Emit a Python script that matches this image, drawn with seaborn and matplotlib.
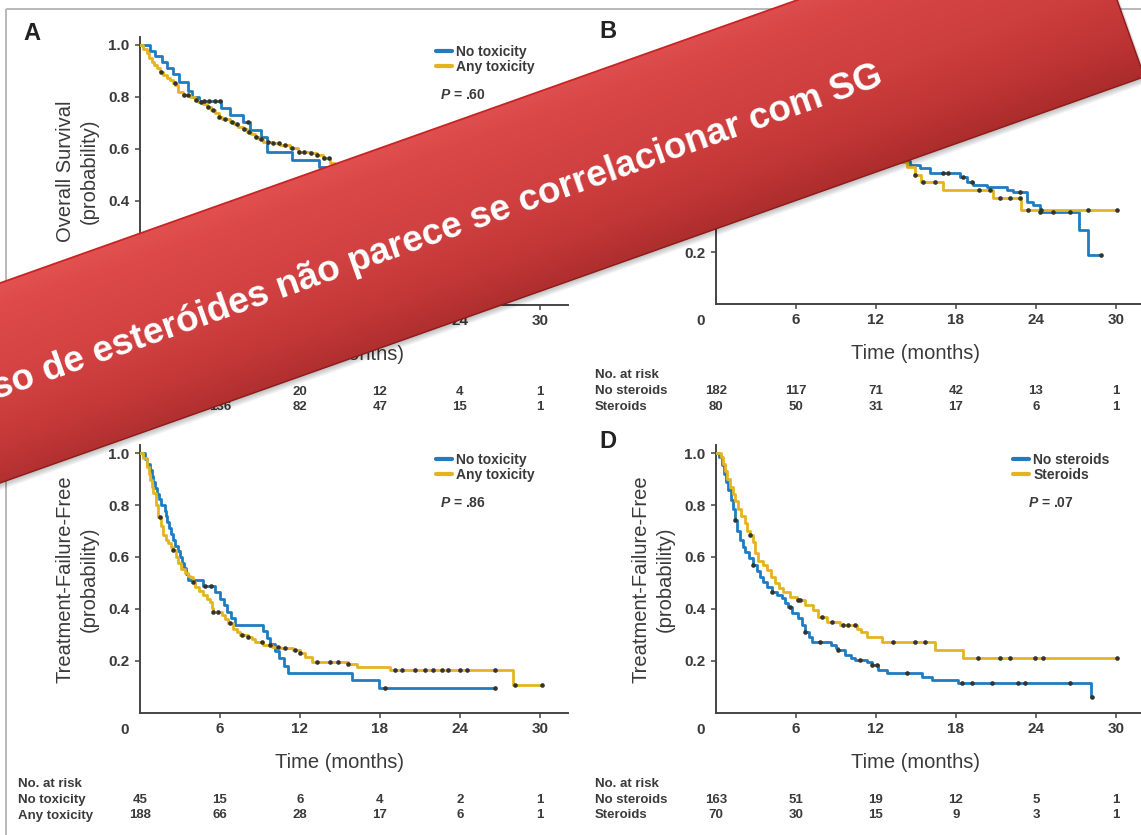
import numpy as np
import pandas as pd
import matplotlib
matplotlib.use("Agg")
import matplotlib.pyplot as plt
import seaborn as sns
from matplotlib import transforms, font_manager
from matplotlib.patches import Polygon
from matplotlib.lines import Line2D

# ---------------- data ----------------
month_ticks = [6, 12, 18, 24, 30]
ytick_vals = [0.2, 0.4, 0.6, 0.8, 1.0]
ytick_labels = ["0.2", "0.4", "0.6", "0.8", "1.0"]
risk_times = [0, 6, 12, 18, 24, 30]

# Panel A: overall survival by toxicity
a_no_t = [0, 0.75, 1.13, 1.63, 2.0, 2.5, 2.9, 3.6, 3.9, 4.4, 6.1, 6.75, 7.75, 8.25, 9.1, 9.5, 11.4, 13.4,
          14.1, 16.5, 19.0, 21.5, 24.0, 27.0]
a_no_s = [1.0, 0.978, 0.956, 0.933, 0.911, 0.889, 0.856, 0.822, 0.80, 0.786, 0.756, 0.731, 0.705, 0.673,
          0.647, 0.590, 0.558, 0.532, 0.505, 0.47, 0.43, 0.39, 0.36, 0.36]
a_no_c = [4.8, 5.2, 5.6, 6.0, 8.1]
a_tx_t = [0, 0.25, 0.5, 0.7, 0.88, 1.05, 1.25, 1.5, 1.75, 2.0, 2.25, 2.45, 2.63, 2.88, 3.25, 3.75, 4.1,
          4.38, 4.7, 5.0, 5.3, 5.63, 5.9, 6.13, 6.75, 7.05, 7.38, 7.7, 8.0, 8.3, 8.63, 8.95, 9.25, 9.88,
          10.5, 11.25, 11.88, 12.75, 13.25, 13.75, 14.25, 14.6, 15.2, 16, 17, 18, 19.5, 21, 22.5, 24,
          26, 28, 30]
a_tx_s = [1.0, 0.985, 0.968, 0.95, 0.936, 0.922, 0.91, 0.897, 0.885, 0.875, 0.865, 0.855, 0.846, 0.821,
          0.808, 0.801, 0.79, 0.782, 0.772, 0.763, 0.75, 0.737, 0.725, 0.714, 0.705, 0.695, 0.686, 0.677,
          0.667, 0.657, 0.647, 0.637, 0.628, 0.622, 0.615, 0.603, 0.59, 0.584, 0.577, 0.564, 0.545, 0.53,
          0.515, 0.5, 0.49, 0.48, 0.46, 0.445, 0.43, 0.415, 0.40, 0.39, 0.39]
a_tx_c = [1.6, 2.6, 3.3, 3.6, 4.2, 4.6, 5.1, 5.5, 5.9, 6.4, 6.9, 7.3, 7.8, 8.2, 8.7, 9.1, 9.6, 10.0,
          10.4, 10.9, 11.4, 11.9, 12.3, 12.8, 13.3, 13.8, 14.2, 16.5, 19.0, 22.0, 25.0, 28.0, 30.0]
a_risk_no = [45, 33, 20, 12, 4, 1]
a_risk_tx = [188, 136, 82, 47, 15, 1]

# Panel B: overall survival by steroids
b_no_t = [0, 1, 2, 3, 4, 5, 6, 7, 8, 9, 10, 11, 12, 13, 14, 14.55, 15.3, 16.05, 18.3, 18.8, 19.3, 20.3,
          21.8, 22.3, 23.3, 23.8, 24.3, 27.2, 27.9, 28.9]
b_no_s = [1.0, 0.97, 0.93, 0.89, 0.85, 0.81, 0.77, 0.73, 0.70, 0.67, 0.64, 0.61, 0.59, 0.57, 0.55, 0.535,
          0.522, 0.503, 0.49, 0.47, 0.458, 0.451, 0.438, 0.432, 0.393, 0.381, 0.355, 0.285, 0.188, 0.188]
b_no_c = [17.05, 17.43, 18.55, 19.18, 22.8, 24.3, 25.3, 26.55, 28.9]
b_st_t = [0, 1, 2, 3, 4, 5, 6, 7, 8, 9, 10, 11, 12, 13, 13.8, 14.3, 14.9, 15.4, 17.05, 20.8, 22.9, 30.05]
b_st_s = [1.0, 0.97, 0.93, 0.89, 0.85, 0.80, 0.76, 0.72, 0.69, 0.66, 0.63, 0.60, 0.58, 0.56, 0.545, 0.528,
          0.497, 0.47, 0.438, 0.406, 0.361, 0.361]
b_st_c = [14.9, 15.55, 16.4, 19.7, 20.55, 21.3, 22.05, 22.8, 23.4, 24.4, 27.9, 30.05]
b_risk_no = [182, 117, 71, 42, 13, 1]
b_risk_st = [80, 50, 31, 17, 6, 1]

# Panel C: treatment-failure-free by toxicity
c_no_t = [0, 0.38, 0.55, 0.75, 0.9, 1.0, 1.13, 1.25, 1.45, 1.6, 1.85, 1.95, 2.05, 2.2, 2.35, 2.5, 2.65,
          2.85, 3.0, 3.15, 3.3, 3.45, 3.6, 4.75, 5.6, 6.0, 6.3, 6.55, 6.8, 7.1, 9.25, 9.5, 9.75, 10.1,
          10.4, 10.8, 11.1, 15.9, 17.9, 26.6]
c_no_s = [1.0, 0.978, 0.956, 0.933, 0.911, 0.889, 0.867, 0.844, 0.822, 0.800, 0.778, 0.756, 0.733, 0.711,
          0.689, 0.667, 0.644, 0.622, 0.600, 0.578, 0.556, 0.533, 0.511, 0.489, 0.465, 0.44, 0.415, 0.39,
          0.365, 0.34, 0.315, 0.29, 0.265, 0.24, 0.21, 0.18, 0.153, 0.127, 0.095, 0.095]
c_no_c = [4.9, 5.3, 18.4, 26.6]
c_tx_t = [0, 0.25, 0.5, 0.65, 0.75, 0.9, 1.0, 1.2, 1.38, 1.55, 1.75, 1.95, 2.13, 2.3, 2.5, 2.7, 2.88, 3.1,
          3.38, 3.6, 3.75, 3.95, 4.13, 4.45, 4.75, 5.0, 5.25, 5.4, 5.5, 6.13, 6.4, 6.63, 7.0, 7.25, 7.5,
          8.13, 8.4, 8.63, 9.25, 9.88, 10.5, 11.5, 12.0, 12.4, 12.9, 15.6, 16.25, 18.75, 28.0, 30.13]
c_tx_s = [1.0, 0.98, 0.947, 0.92, 0.896, 0.87, 0.845, 0.80, 0.755, 0.72, 0.685, 0.665, 0.653, 0.64, 0.627,
          0.60, 0.576, 0.555, 0.537, 0.528, 0.524, 0.505, 0.486, 0.47, 0.454, 0.44, 0.428, 0.405, 0.389,
          0.377, 0.36, 0.345, 0.325, 0.312, 0.30, 0.293, 0.283, 0.274, 0.261, 0.255, 0.249, 0.242, 0.229,
          0.216, 0.197, 0.188, 0.178, 0.165, 0.107, 0.107]
c_tx_c = [1.5, 2.5, 4.0, 5.5, 5.88, 6.75, 7.63, 8.13, 9.13, 9.75, 10.38, 10.88, 11.63, 12.0, 13.25, 14.25,
          14.88, 15.63, 19.13, 19.63, 20.63, 21.38, 22.0, 22.63, 23.13, 24.0, 24.5, 26.63, 28.13, 30.13]
c_risk_no = [45, 15, 6, 4, 2, 1]
c_risk_tx = [188, 66, 28, 17, 6, 1]

# Panel D: treatment-failure-free by steroids
d_no_t = [0, 0.2, 0.43, 0.6, 0.75, 0.93, 1.1, 1.25, 1.43, 1.6, 1.8, 2.0, 2.18, 2.5, 2.8, 3.05, 3.3, 3.55,
          3.8, 4.18, 4.55, 4.93, 5.2, 5.43, 5.68, 6.18, 6.45, 6.68, 6.95, 7.18, 8.6, 9.0, 9.18, 9.68, 10.1,
          10.43, 11.3, 11.68, 12.18, 12.8, 15.43, 16.18, 18.18, 28.1, 28.2]
d_no_s = [1.0, 0.985, 0.954, 0.92, 0.89, 0.858, 0.82, 0.785, 0.742, 0.70, 0.665, 0.64, 0.62, 0.595, 0.569,
          0.545, 0.524, 0.505, 0.486, 0.466, 0.455, 0.441, 0.425, 0.409, 0.383, 0.364, 0.34, 0.313, 0.293,
          0.274, 0.262, 0.25, 0.242, 0.223, 0.212, 0.204, 0.195, 0.185, 0.165, 0.153, 0.137, 0.127, 0.117,
          0.063, 0.063]
d_no_c = [1.43, 2.8, 4.18, 5.55, 6.68, 7.8, 9.18, 10.8, 11.68, 12.05, 14.3, 18.43, 19.18, 20.68, 22.68,
          23.18, 26.55, 28.2]
d_st_t = [0, 0.4, 0.55, 0.7, 0.85, 1.05, 1.25, 1.45, 1.68, 1.9, 2.18, 2.35, 2.55, 2.75, 2.93, 3.18, 3.5,
          3.8, 4.1, 4.43, 4.75, 5.05, 5.55, 6.05, 6.68, 7.3, 7.68, 8.3, 9.3, 10.55, 10.9, 11.3, 12.43,
          16.43, 18.55, 30.1]
d_st_s = [1.0, 0.986, 0.957, 0.929, 0.9, 0.871, 0.843, 0.814, 0.786, 0.757, 0.729, 0.70, 0.686, 0.657,
          0.614, 0.586, 0.571, 0.55, 0.525, 0.50, 0.48, 0.466, 0.447, 0.434, 0.415, 0.396, 0.37, 0.351,
          0.338, 0.325, 0.31, 0.293, 0.274, 0.242, 0.21, 0.21]
d_st_c = [2.55, 6.18, 6.3, 7.93, 8.68, 9.55, 9.93, 10.43, 13.3, 14.93, 15.68, 19.68, 21.3, 22.05, 23.93,
          24.55, 30.1]
d_risk_no = [163, 51, 19, 12, 5, 1]
d_risk_st = [70, 30, 15, 9, 3, 1]

tox_labels = ["No toxicity", "Any toxicity"]
ster_labels = ["No steroids", "Steroids"]
banner_text = "Uso de esteróides não parece se correlacionar com SG"

# ---------------- style ----------------
sns.set_style("ticks")
plt.rcParams["font.family"] = ["Liberation Sans", "DejaVu Sans"]
plt.rcParams["mathtext.fontset"] = "custom"
plt.rcParams["mathtext.it"] = "Liberation Sans:italic:bold"
plt.rcParams["mathtext.rm"] = "Liberation Sans"

avail = {f.name for f in font_manager.fontManager.ttflist}
if "Liberation Sans Narrow" in avail:
    LAB_FAM, LAB_SIZE = ["Liberation Sans Narrow", "DejaVu Sans"], 17
else:
    LAB_FAM, LAB_SIZE = ["Liberation Sans", "DejaVu Sans"], 14.5

BLUE = "#1f7cc2"
GOLD = "#e4b420"
CENS = "#34342a"
AXC = "#444444"
TXT = "#3a3a3a"

W, H = 1141, 835
fig = plt.figure(figsize=(W / 100, H / 100), dpi=100)
fig.patch.set_facecolor("white")

XMAX, YMAX = 32.1, 1.03
PXM, PXS = 13.333, 260.0
AW, AH = XMAX * PXM, YMAX * PXS


def make_axes(x0, y0):
    return fig.add_axes([x0 / W, 1 - y0 / H, AW / W, AH / H])


def draw_panel(x0, y0, curves, labels, pval, ylabel, risk, letter, leg_x, p_x, risk_label_x):
    ax = make_axes(x0, y0)
    ax.set_xlim(0, XMAX)
    ax.set_ylim(0, YMAX)
    for t, s, c, col in curves:
        df = pd.DataFrame({"t": t, "s": s})
        sns.lineplot(data=df, x="t", y="s", drawstyle="steps-post", color=col, lw=2.0, ax=ax,
                     estimator=None, errorbar=None, legend=False, zorder=3)
        idx = np.searchsorted(np.asarray(t), np.asarray(c), side="right") - 1
        yc = np.asarray(s)[idx]
        sns.scatterplot(x=c, y=yc, ax=ax, s=11, color=CENS, linewidth=0, zorder=4, legend=False)
    for sp in ["top", "right"]:
        ax.spines[sp].set_visible(False)
    for sp in ["left", "bottom"]:
        ax.spines[sp].set_color(AXC)
        ax.spines[sp].set_linewidth(1.4)
    ax.set_xticks(month_ticks)
    ax.set_xticklabels([str(m) for m in month_ticks], fontweight="bold")
    ax.set_yticks(ytick_vals)
    ax.set_yticklabels(ytick_labels, fontweight="bold")
    ax.tick_params(direction="out", length=3.5, width=1.1, color=AXC, labelsize=11, labelcolor=TXT)
    ax.tick_params(axis="x", pad=3)
    ax.tick_params(axis="y", pad=4)
    off = transforms.ScaledTranslation(-15 / 100, -9.5 / 100, fig.dpi_scale_trans)
    ax.text(0, 0, "0", transform=ax.transData + off, ha="center", va="top", fontsize=11,
            fontweight="bold", color=TXT)
    ax.set_xlabel("Time (months)", fontsize=LAB_SIZE, family=LAB_FAM, color=TXT, va="top")
    ax.xaxis.set_label_coords(15 / XMAX, -0.151)
    ax.set_ylabel(ylabel, fontsize=LAB_SIZE, family=LAB_FAM, color=TXT, linespacing=1.32)
    ax.yaxis.set_label_coords(-0.097, 0.5)
    handles = [Line2D([], [], color=BLUE, lw=3), Line2D([], [], color=GOLD, lw=3)]
    leg = ax.legend(handles, labels, loc="upper left", bbox_to_anchor=(leg_x, 0.972), frameon=False,
                    fontsize=10, handlelength=1.15, handletextpad=0.3, labelspacing=0.1, borderpad=0,
                    borderaxespad=0, labelcolor=TXT)
    for tx in leg.get_texts():
        tx.set_fontweight("bold")
    if pval is not None:
        ax.text(p_x, 0.783, r"$P$ = " + pval, transform=ax.transAxes, fontsize=10, color=TXT,
                fontweight="bold", ha="left", va="center")
    # risk table
    blend = transforms.blended_transform_factory(ax.transData, fig.transFigure)
    fig.text(risk_label_x / W, 1 - (y0 + 71) / H, "No. at risk", fontsize=9.5, color=TXT,
             fontweight="bold", va="center")
    for k, (name, vals) in enumerate(risk):
        yy = 1 - (y0 + 87 + 15.5 * k) / H
        fig.text(risk_label_x / W, yy, name, fontsize=9.5, color=TXT, fontweight="bold", va="center")
        for tt, v in zip(risk_times, vals):
            ax.text(tt, yy, str(v), transform=blend, fontsize=9.5, color=TXT, fontweight="bold",
                    ha="center", va="center")
    fig.text((x0 - 108) / W, 1 - (y0 - 272) / H, letter, fontsize=17, fontweight="bold",
             color="#222222", ha="center", va="center")
    return ax


draw_panel(140, 305,
           [(a_no_t, a_no_s, a_no_c, BLUE), (a_tx_t, a_tx_s, a_tx_c, GOLD)],
           tox_labels, ".60", "Overall Survival\n(probability)",
           [(tox_labels[0], a_risk_no), (tox_labels[1], a_risk_tx)], "A", 0.692, 0.70, 18)
draw_panel(716, 304,
           [(b_no_t, b_no_s, b_no_c, BLUE), (b_st_t, b_st_s, b_st_c, GOLD)],
           ster_labels, None, "Overall Survival\n(probability)",
           [(ster_labels[0], b_risk_no), (ster_labels[1], b_risk_st)], "B", 0.694, 0.73, 595)
draw_panel(140, 713,
           [(c_no_t, c_no_s, c_no_c, BLUE), (c_tx_t, c_tx_s, c_tx_c, GOLD)],
           tox_labels, ".86", "Treatment-Failure-Free\n(probability)",
           [(tox_labels[0], c_risk_no), (tox_labels[1], c_risk_tx)], "C", 0.692, 0.70, 18)
draw_panel(716, 713,
           [(d_no_t, d_no_s, d_no_c, BLUE), (d_st_t, d_st_s, d_st_c, GOLD)],
           ster_labels, ".07", "Treatment-Failure-Free\n(probability)",
           [(ster_labels[0], d_risk_no), (ster_labels[1], d_risk_st)], "D", 0.694, 0.729, 595)

# ---------------- overlay: frame + banner ----------------
ov = fig.add_axes([0, 0, 1, 1], zorder=10)
ov.set_xlim(0, W)
ov.set_ylim(H, 0)
ov.axis("off")
ov.plot([5.5, W], [8.5, 8.5], color="#b8b8b8", lw=1.4, zorder=1, solid_capstyle="butt")
ov.plot([5.5, 5.5], [8.5, H], color="#b8b8b8", lw=1.4, zorder=1, solid_capstyle="butt")

theta = np.arctan(0.355)
u = np.array([np.cos(theta), -np.sin(theta)])
n = np.array([np.sin(theta), np.cos(theta)])
half = 94.2
cr = np.array([1112.8, -12.0])
cl = cr - u * 1700
corners = np.array([cl - n * half, cr - n * half, cr + n * half, cl + n * half])

for k in range(1, 8):
    shift = n * k * 1.0 + u * k * 0.35
    ov.add_patch(Polygon(corners + shift, closed=True, facecolor="black", edgecolor="none",
                         alpha=0.04, zorder=3))

yy, xx = np.mgrid[0:H, 0:W] + 0.5
dn = ((xx - cr[0]) * n[0] + (yy - cr[1]) * n[1]) / half
along = np.clip(((xx - cr[0]) * u[0] + (yy - cr[1]) * u[1]) / 1200.0, -1, 0)
stops = [-1.0, -0.75, 0.0, 0.6, 1.0]
rr = np.interp(dn, stops, [0.86, 0.84, 0.80, 0.74, 0.67]) + 0.03 * (-along)
gg = np.interp(dn, stops, [0.30, 0.27, 0.24, 0.20, 0.17]) + 0.02 * (-along)
bb = np.interp(dn, stops, [0.30, 0.27, 0.24, 0.20, 0.17]) + 0.02 * (-along)
img = np.clip(np.dstack([rr, gg, bb]), 0, 1)
poly = Polygon(corners, closed=True, facecolor="none", edgecolor="none", zorder=4)
ov.add_patch(poly)
im = ov.imshow(img, extent=(0, W, H, 0), zorder=4, interpolation="bilinear")
im.set_clip_path(poly)
ov.plot([corners[0][0], corners[1][0]], [corners[0][1], corners[1][1]], color="#c82424", lw=1.3, zorder=5)
ov.plot([corners[3][0], corners[2][0]], [corners[3][1], corners[2][1]], color="#8c1a1a", lw=1.0, zorder=5)
ov.plot([corners[1][0], corners[2][0]], [corners[1][1], corners[2][1]], color="#8c1a1a", lw=1.0, zorder=5)
ov.set_xlim(0, W)
ov.set_ylim(H, 0)

ov.text(885, 84, banner_text, rotation=np.degrees(theta), rotation_mode="anchor", ha="right",
        va="baseline", color="white", fontsize=26.6, fontweight="bold", family="Liberation Sans", zorder=6)

fig.savefig("out.png", dpi=100)
